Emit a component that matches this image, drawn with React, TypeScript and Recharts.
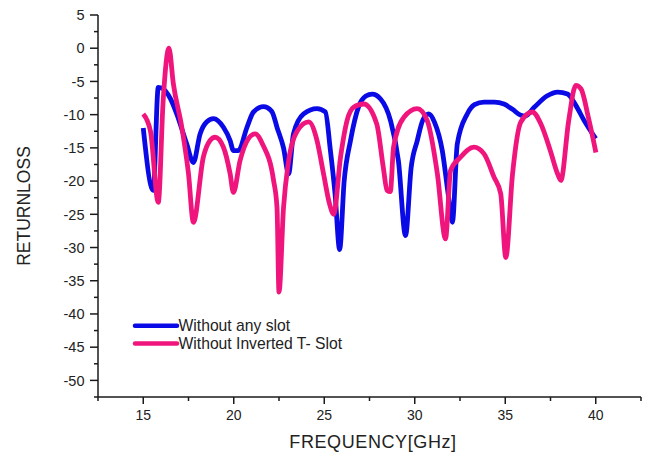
import React from 'react';
import { LineChart, Line, XAxis, YAxis, Legend } from 'recharts';

const seriesNames = ['Without any slot', 'Without Inverted T- Slot'];
const seriesColors = ['#0a0ae6', '#f0157c'];

const blueFreq = [15.0, 15.55, 15.83, 16.1, 16.5, 16.85, 17.4, 17.77, 18.14, 18.5, 18.88, 19.43, 19.8, 19.98, 20.26, 20.73, 21.09, 21.64, 22.1, 22.4, 22.75, 23.03, 23.3, 23.86, 24.6, 25.06, 25.34, 25.6, 25.85, 26.1, 26.45, 26.9, 27.3, 27.65, 28.1, 28.66, 29.1, 29.49, 29.8, 30.14, 30.45, 30.78, 31.1, 31.52, 31.85, 32.08, 32.35, 32.9, 33.3, 33.83, 34.4, 34.93, 35.4, 35.86, 36.1, 36.6, 37.3, 37.9, 38.44, 38.9, 39.36, 40.0];
const blueValues = [-12.0, -21.4, -5.9, -6.1, -7.6, -9.9, -14.4, -17.2, -12.9, -11.1, -10.6, -11.9, -13.9, -15.4, -15.4, -11.9, -9.6, -8.8, -9.5, -12.0, -15.0, -18.9, -12.9, -9.9, -9.1, -9.6, -15.4, -22.0, -30.3, -20.0, -13.9, -8.8, -7.2, -6.9, -7.6, -10.9, -17.0, -28.2, -18.0, -13.9, -10.8, -9.9, -11.2, -15.4, -22.0, -26.2, -14.4, -9.9, -8.5, -8.1, -8.1, -8.4, -9.2, -10.1, -10.2, -8.9, -7.2, -6.6, -6.9, -8.6, -10.9, -13.6];

const pinkFreq = [15.0, 15.4, 15.83, 16.1, 16.42, 16.66, 17.13, 17.5, 17.77, 18.32, 18.69, 18.97, 19.43, 19.8, 19.98, 20.35, 20.81, 21.18, 21.6, 22.2, 22.39, 22.5, 22.75, 23.0, 23.5, 24.14, 24.6, 24.96, 25.3, 25.52, 25.9, 26.26, 26.62, 27.18, 27.9, 28.26, 28.47, 28.65, 28.83, 29.4, 30.14, 30.69, 31.25, 31.7, 31.98, 32.53, 33.27, 33.83, 34.38, 34.75, 35.03, 35.4, 35.86, 36.5, 36.97, 37.5, 37.89, 38.07, 38.5, 38.9, 39.18, 39.6, 40.01];
const pinkValues = [-9.9, -12.5, -23.2, -7.9, 0.0, -5.3, -11.9, -18.9, -26.2, -16.4, -13.9, -13.4, -14.9, -18.9, -21.7, -16.9, -13.6, -12.9, -14.5, -19.9, -24.0, -36.7, -24.0, -17.5, -12.5, -11.1, -13.9, -18.9, -23.5, -25.0, -16.4, -10.9, -8.9, -8.4, -11.4, -17.9, -21.4, -21.6, -14.9, -10.4, -9.1, -10.9, -18.9, -28.7, -18.4, -16.4, -14.9, -15.9, -19.4, -21.9, -31.5, -19.0, -11.1, -9.6, -11.4, -15.5, -18.9, -19.9, -11.0, -5.6, -6.1, -10.5, -15.7];

const xTicks = [12.5, 15, 17.5, 20, 22.5, 25, 27.5, 30, 32.5, 35, 37.5, 40, 42.5];
const yTicks = [5, 2.5, 0, -2.5, -5, -7.5, -10, -12.5, -15, -17.5, -20, -22.5, -25, -27.5, -30, -32.5, -35, -37.5, -40, -42.5, -45, -47.5, -50, -52.5];

const blueData = blueFreq.map((f, i) => ({ f, v: blueValues[i] }));
const pinkData = pinkFreq.map((f, i) => ({ f, v: pinkValues[i] }));

const FONT = '"Liberation Sans", Arial, sans-serif';
const AXIS = '#1a1a1a';
const TEXT = '#222222';

const XTick = (props: any) => {
  const { x, y, payload } = props;
  const major = payload.value % 5 === 0;
  return (
    <g>
      <line x1={x} x2={x} y1={y} y2={y + (major ? 7 : 4)} stroke={AXIS} strokeWidth={1.5} />
      {major && (
        <text x={x} y={y + 23} textAnchor="middle" fontSize={14} fontFamily={FONT} fill={TEXT}>
          {payload.value}
        </text>
      )}
    </g>
  );
};

const YTick = (props: any) => {
  const { x, y, payload } = props;
  const major = payload.value % 5 === 0;
  return (
    <g>
      <line x1={x} x2={x - (major ? 8 : 4)} y1={y} y2={y} stroke={AXIS} strokeWidth={1.5} />
      {major && (
        <text x={x - 13.5} y={y} dy="0.36em" textAnchor="end" fontSize={14.5} fontFamily={FONT} fill={TEXT}>
          {payload.value}
        </text>
      )}
    </g>
  );
};

const LegendContent = () => (
  <svg width={280} height={50}>
    {seriesNames.map((name, i) => (
      <g key={name}>
        <line x1={5} x2={47} y1={15.7 + i * 17.8} y2={15.7 + i * 17.8} stroke={seriesColors[i]} strokeWidth={4.5} strokeLinecap="round" />
        <text x={48.5} y={21.3 + i * 17.8} fontSize={15.7} fontFamily={FONT} fill={TEXT}>
          {name}
        </text>
      </g>
    ))}
  </svg>
);

export default function App() {
  return (
    <div style={{ position: 'absolute', left: 0, top: 0, width: 646, height: 454, background: '#fff' }}>
      <LineChart width={646} height={454} margin={{ top: 15, right: 5, left: 0, bottom: 0 }}>
        <XAxis
          type="number"
          dataKey="f"
          domain={[12.5, 42.5]}
          ticks={xTicks}
          interval={0}
          height={57}
          tickSize={0}
          tickMargin={0}
          tickLine={false}
          tick={<XTick />}
          axisLine={{ stroke: AXIS, strokeWidth: 1.5 }}
          allowDataOverflow
          label={(p: any) => (
            <text x={373} y={448} textAnchor="middle" fontSize={18} letterSpacing={0.6} fontFamily={FONT} fill={TEXT}>
              FREQUENCY[GHz]
            </text>
          )}
        />
        <YAxis
          type="number"
          domain={[-52.5, 5]}
          ticks={yTicks}
          interval={0}
          width={98}
          tickSize={0}
          tickMargin={0}
          tickLine={false}
          tick={<YTick />}
          axisLine={{ stroke: AXIS, strokeWidth: 1.5 }}
          allowDataOverflow
          label={(p: any) => (
            <text x={29.5} y={206} transform="rotate(-90 29.5 206)" textAnchor="middle" fontSize={17.5} fontFamily={FONT} fill={TEXT}>
              RETURNLOSS
            </text>
          )}
        />
        <Legend
          layout="vertical"
          align="center"
          verticalAlign="middle"
          wrapperStyle={{ left: 130, top: 310, width: 280, height: 50 }}
          content={<LegendContent />}
        />
        <Line
          data={blueData}
          dataKey="v"
          name={seriesNames[0]}
          type="monotone"
          stroke={seriesColors[0]}
          strokeWidth={4.8}
          strokeLinejoin="round"
          dot={false}
          activeDot={false}
          isAnimationActive={false}
        />
        <Line
          data={pinkData}
          dataKey="v"
          name={seriesNames[1]}
          type="monotone"
          stroke={seriesColors[1]}
          strokeWidth={4.8}
          strokeLinejoin="round"
          dot={false}
          activeDot={false}
          isAnimationActive={false}
        />
      </LineChart>
    </div>
  );
}
